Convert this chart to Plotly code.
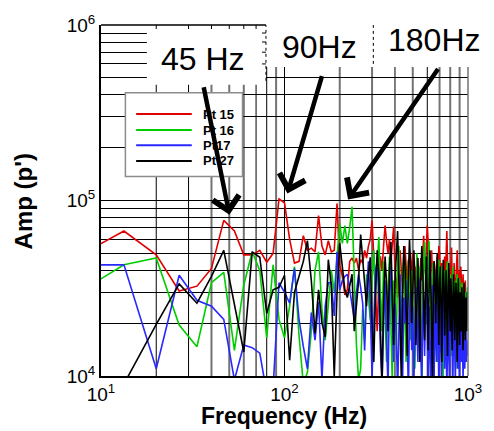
import math
import plotly.graph_objects as go

# FFT bin frequencies (resolution 20/3 Hz)
freq_hz = [k * 20 / 3 for k in range(1, 151)]

pt15 = [45000, 67000, 49000, 30500, 32500, 41000, 77000, 67000, 49000, 49000, 52000, 44500, 50000, 102000, 97000,
        60000, 44000, 45000, 63000, 52000, 53500, 51000, 82000, 55000, 49000, 59000, 51000, 52000, 96000, 43000,
        37000, 29000, 31000, 45000, 47000, 44000, 47000, 40000, 46000, 44000, 52000, 47000, 55000, 60000, 77000,
        52000, 30000, 18000, 35000, 48000, 40000, 55000, 72000, 58000, 50000, 60000, 45000, 56000, 71000, 40000,
        35000, 28000, 45000, 52000, 38000, 30000, 48000, 55000, 42000, 33000, 46000, 40000, 28000, 44000, 50000,
        36000, 42000, 30000, 48000, 38000, 25000, 40000, 47000, 35000, 52000, 63000, 45000, 38000, 55000, 72000,
        58000, 40000, 33000, 46000, 52000, 38000, 30000, 45000, 35000, 28000, 42000, 48000, 36000, 55000, 50000,
        38000, 30000, 44000, 34000, 26000, 40000, 48000, 35000, 52000, 67000, 45000, 30000, 38000, 28000, 33000,
        42000, 54000, 36000, 26000, 32000, 44000, 30000, 22000, 35000, 48000, 52000, 38000, 27000, 33000, 40000,
        28000, 42000, 35000, 24000, 30000, 38000, 26000, 20000, 30000, 35000, 25000, 30000, 22000, 27000, 20000]

pt16 = [27600, 43000, 47000, 19500, 14700, 34000, 39000, 14000, 33000, 51000, 40000, 16500, 43000, 21000, 16500,
        25000, 42000, 17000, 9000, 10500, 18000, 40000, 51000, 24000, 16000, 25000, 40000, 30000, 45000, 74000,
        57000, 72000, 57000, 70000, 92000, 35000, 15000, 9500, 11000, 24000, 16000, 38000, 28000, 21000, 35000,
        52000, 28000, 40000, 62000, 30000, 18000, 45000, 25000, 12000, 32000, 48000, 20000, 9000, 35000, 27000,
        15000, 42000, 55000, 30000, 18000, 38000, 48000, 22000, 12000, 33000, 45000, 26000, 16000, 40000, 30000,
        20000, 11000, 36000, 50000, 28000, 15000, 42000, 24000, 9000, 32000, 46000, 58000, 35000, 20000, 40000,
        30000, 59000, 38000, 22000, 14000, 35000, 44000, 25000, 16000, 38000, 30000, 12000, 28000, 46000, 32000,
        20000, 36000, 42000, 18000, 10000, 30000, 40000, 24000, 15000, 34000, 45000, 28000, 17000, 26000, 38000,
        22000, 13000, 30000, 42000, 25000, 16000, 35000, 20000, 11000, 28000, 38000, 24000, 14000, 30000, 36000,
        20000, 12000, 26000, 34000, 22000, 15000, 28000, 32000, 18000, 24000, 30000, 20000, 26000, 32000, 28000]

pt17 = [43000, 43000, 11000, 37500, 27000, 25000, 21000, 9500, 15000, 14500, 13500, 8000, 8500, 34000, 30000,
        26000, 41000, 21000, 14700, 11000, 23000, 16000, 26500, 9500, 25000, 34000, 34000, 22000, 51000, 31000,
        35000, 37000, 38000, 31000, 26000, 21000, 30000, 38000, 32000, 26000, 14000, 30000, 45000, 25000, 10000,
        22000, 40000, 45000, 28000, 14000, 9000, 20000, 35000, 16000, 8500, 30000, 42000, 22000, 12000, 26000,
        18000, 8000, 24000, 38000, 15000, 9000, 28000, 20000, 35000, 12000, 8000, 22000, 30000, 14000, 25000,
        9000, 18000, 32000, 20000, 12000, 27000, 36000, 15000, 8500, 22000, 30000, 13000, 24000, 40000, 18000,
        10000, 25000, 16000, 8000, 21000, 33000, 14000, 9000, 26000, 19000, 12000, 30000, 22000, 8500, 17000,
        28000, 14000, 9500, 24000, 31000, 16000, 11000, 22000, 18000, 8000, 20000, 27000, 13000, 9000, 23000,
        16000, 26000, 12000, 8500, 19000, 24000, 14000, 9000, 21000, 28000, 15000, 11000, 19000, 13000, 9000,
        22000, 17000, 12000, 25000, 14000, 9500, 18000, 22000, 11000, 15000, 20000, 12000, 16000, 13000, 15000]

pt27 = [3000, 9000, 19700, 33500, 26000, 37000, 52000, 25000, 13700, 51000, 47500, 22700, 31000, 32000, 37500,
        12300, 30000, 37000, 45000, 59000, 35000, 17500, 31000, 20000, 16700, 46000, 33000, 10000, 30000, 57000,
        40000, 31000, 28000, 33000, 38000, 18000, 24000, 35000, 64000, 45000, 35000, 25000, 38000, 47500, 20000,
        12000, 30000, 52000, 38000, 14000, 9000, 26000, 48000, 33000, 18000, 40000, 58000, 30000, 15000, 35000,
        50000, 67000, 36000, 20000, 9500, 28000, 55000, 44000, 24000, 13000, 38000, 60000, 42000, 20000, 30000,
        52000, 35000, 15000, 25000, 47000, 30000, 12000, 36000, 55000, 40000, 22000, 16000, 33000, 48000, 28000,
        14000, 30000, 52000, 36000, 18000, 9000, 26000, 45000, 38000, 20000, 32000, 50000, 28000, 15000, 35000,
        42000, 24000, 12000, 30000, 46000, 33000, 17000, 28000, 40000, 22000, 13000, 32000, 44000, 26000, 18000,
        36000, 28000, 14000, 24000, 38000, 30000, 16000, 22000, 34000, 26000, 12000, 28000, 36000, 20000, 15000,
        30000, 24000, 18000, 32000, 22000, 14000, 26000, 34000, 20000, 16000, 28000, 24000, 18000, 30000, 24000]

series_names = ["Pt 15", "Pt 16", "Pt17", "Pt 27"]
series_colors = ["rgb(225,0,0)", "rgb(0,205,0)", "rgb(40,40,255)", "rgb(0,0,0)"]

x_tick_vals = [10, 100, 1000]
x_tick_text = ["10<sup>1</sup>", "10<sup>2</sup>", "10<sup>3</sup>"]
y_tick_vals = [1e4, 1e5, 1e6]
y_tick_text = ["10<sup>4</sup>", "10<sup>5</sup>", "10<sup>6</sup>"]

# vertical grid frequencies and their drawn colour (as in the source image)
xgrid_vals = [20, 30, 40, 50, 60, 70, 80, 90, 100, 200, 300, 400, 500, 600, 700, 800, 900]
xgrid_dark = [True, True, False, False, False, True, True, False, True, False, False, True, False, True, False, False, False]

# arrow annotations: target (Hz, amplitude) and label
peak_labels = ["45 Hz", "90Hz", "180Hz"]
arrow_target_hz = [50.1, 103.7, 222.0]
arrow_target_amp = [83000, 109600, 101300]

FONT = "Arial, 'Liberation Sans', sans-serif"
W, H = 494, 431
L, R, T, B = 101, 477, 24, 376


def px(x):
    return (x - L) / (R - L)


def py(y):
    return (B - y) / (B - T)


fig = go.Figure()
for name, vals, col in zip(series_names, [pt15, pt16, pt17, pt27], series_colors):
    fig.add_trace(go.Scatter(x=freq_hz, y=vals, mode="lines", name=name,
                             line=dict(color=col, width=1.6), showlegend=False))

shapes = []
# vertical grid lines
for v, dark in zip(xgrid_vals, xgrid_dark):
    xp = (math.log10(v) - 1) / 2
    shapes.append(dict(type="line", xref="paper", yref="paper", x0=xp, x1=xp, y0=0, y1=1,
                       line=dict(color="black" if dark else "rgb(115,115,115)", width=1 if dark else 2),
                       layer="below"))
# white label boxes
shapes.append(dict(type="rect", xref="paper", yref="paper", x0=px(148), x1=px(270), y0=py(84), y1=py(24),
                   fillcolor="white", line=dict(width=0), layer="above"))
shapes.append(dict(type="rect", xref="paper", yref="paper", x0=px(270), x1=px(494), y0=py(66), y1=py(-2),
                   fillcolor="white", line=dict(width=0), layer="above"))
# top spine and box edges
shapes.append(dict(type="line", xref="paper", yref="paper", x0=0, x1=px(270), y0=1, y1=1,
                   line=dict(color="black", width=1.5), layer="above"))
shapes.append(dict(type="line", xref="paper", yref="paper", x0=px(270), x1=px(270), y0=py(80), y1=1,
                   line=dict(color="black", width=1, dash="dot"), layer="above"))
shapes.append(dict(type="line", xref="paper", yref="paper", x0=px(380), x1=px(380), y0=py(63), y1=1,
                   line=dict(color="black", width=1, dash="dot"), layer="above"))
shapes.append(dict(type="line", xref="paper", yref="paper", x0=1, x1=1, y0=0, y1=py(66),
                   line=dict(color="rgb(115,115,115)", width=1.5), layer="above"))
for v in [20, 30, 40, 50, 60, 70]:
    xp = (math.log10(v) - 1) / 2
    shapes.append(dict(type="line", xref="paper", yref="paper", x0=xp, x1=xp, y0=py(28), y1=1,
                       line=dict(color="black", width=1), layer="above"))
for v in [6e5, 7e5, 8e5, 9e5]:
    yp = (math.log10(v) - 4) / 2
    shapes.append(dict(type="line", xref="paper", yref="paper", x0=px(266), x1=px(270), y0=yp, y1=yp,
                       line=dict(color="black", width=1), layer="above"))
# legend box
shapes.append(dict(type="rect", xref="paper", yref="paper", x0=px(126), x1=px(246), y0=py(176), y1=py(92),
                   fillcolor="white", line=dict(color="rgb(140,140,140)", width=1.5), layer="above"))
legend_rows = [113.3, 129.3, 144.7, 160.3]
annotations = []
for name, col, ry in zip(series_names, series_colors, legend_rows):
    shapes.append(dict(type="line", xref="paper", yref="paper", x0=px(137), x1=px(194), y0=py(ry), y1=py(ry),
                       line=dict(color=col, width=2), layer="above"))
    annotations.append(dict(xref="paper", yref="paper", x=px(203), y=py(ry), xanchor="left", yanchor="middle",
                            text="<b>" + name + "</b>", showarrow=False,
                            font=dict(family=FONT, size=13, color="black")))

# peak labels
label_pos = [(205, 58), (325, 46), (442.5, 39)]
for lab, (lx, ly) in zip(peak_labels, label_pos):
    annotations.append(dict(xref="paper", yref="paper", x=px(lx), y=py(ly), xanchor="center", yanchor="middle",
                            text=lab, showarrow=False, font=dict(family=FONT, size=32, color="black")))

# arrows (tail offsets in pixels)
arrow_tails = [(-26, -129), (35, -119), (91, -132)]
for hz, amp, (axo, ayo) in zip(arrow_target_hz, arrow_target_amp, arrow_tails):
    annotations.append(dict(x=math.log10(hz), y=math.log10(amp), xref="x", yref="y", text="",
                            showarrow=True, arrowhead=4, arrowsize=1.15, arrowwidth=4.5, arrowcolor="black",
                            ax=axo, ay=ayo, axref="pixel", ayref="pixel", standoff=0))

# axis titles
annotations.append(dict(xref="paper", yref="paper", x=px(288), y=py(430), xanchor="center", yanchor="bottom",
                        text="<b>Frequency (Hz)</b>", showarrow=False, borderpad=0,
                        font=dict(family=FONT, size=23, color="black")))
annotations.append(dict(xref="paper", yref="paper", x=px(22), y=py(201), xanchor="center", yanchor="middle",
                        text="<b>Amp (p')</b>", showarrow=False, textangle=-90,
                        font=dict(family=FONT, size=24, color="black")))

fig.update_layout(
    width=W, height=H, margin=dict(l=L, r=W - R, t=T, b=H - B),
    paper_bgcolor="white", plot_bgcolor="white",
    font=dict(family=FONT, color="black"),
    shapes=shapes, annotations=annotations,
    xaxis=dict(type="log", range=[1, 3], showgrid=False, zeroline=False,
               showline=True, linecolor="black", linewidth=2, ticks="",
               tickvals=x_tick_vals, ticktext=x_tick_text, tickfont=dict(size=19, family=FONT)),
    yaxis=dict(type="log", range=[4, 6], showgrid=True, gridcolor="black", gridwidth=1, zeroline=False,
               showline=True, linecolor="black", linewidth=2, ticks="",
               minor=dict(dtick="D1", showgrid=True, gridcolor="black", gridwidth=1, ticks=""),
               tickvals=y_tick_vals, ticktext=y_tick_text, tickfont=dict(size=19, family=FONT)),
)

fig.write_html("out.html")
